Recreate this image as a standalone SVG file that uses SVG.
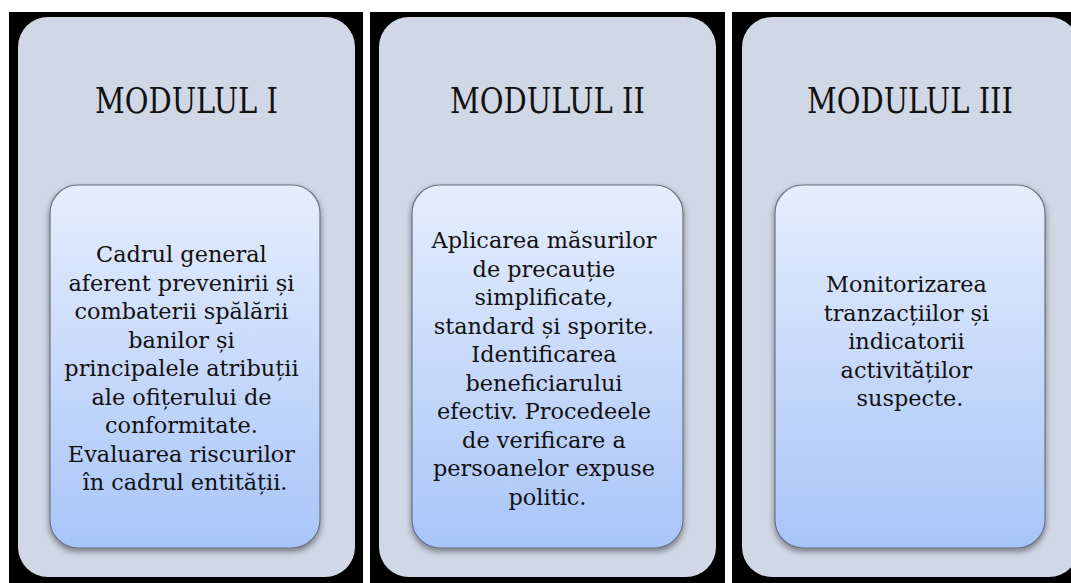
<svg xmlns="http://www.w3.org/2000/svg" width="1071" height="583" viewBox="0 0 1071 583">
  <defs>
    <linearGradient id="innerGrad" x1="0" y1="0" x2="0" y2="1">
      <stop offset="0" stop-color="#e6edfc"/>
      <stop offset="1" stop-color="#a8c5f9"/>
    </linearGradient>
    <filter id="shadow" x="-10%" y="-10%" width="120%" height="125%">
      <feGaussianBlur in="SourceAlpha" stdDeviation="3"/>
      <feOffset dx="0" dy="3" result="b"/>
      <feComponentTransfer><feFuncA type="linear" slope="0.45"/></feComponentTransfer>
      <feMerge><feMergeNode/><feMergeNode in="SourceGraphic"/></feMerge>
    </filter>
    <style>
      .panel { fill: #000000; }
      .outer { fill: #d0d7e5; }
      .inner { fill: url(#innerGrad); stroke: #6b7282; stroke-width: 1.2; }
      .title { font-family: "DejaVu Serif", "Liberation Serif", serif; font-size: 35px; fill: #111111; text-anchor: middle; }
      .body { font-family: "DejaVu Serif", "Liberation Serif", serif; font-size: 22.4px; fill: #111111; text-anchor: middle; }
    </style>
  </defs>
  <rect x="0" y="0" width="1071" height="583" fill="#ffffff"/>
  <rect class="panel" x="9" y="12" width="354" height="571"/>
  <rect class="panel" x="370" y="12" width="355" height="571"/>
  <rect class="panel" x="732" y="12" width="339" height="571"/>

  <g id="module1">
    <rect class="outer" x="18" y="17" width="337" height="560" rx="30" ry="30"/>
    <text class="title" x="186.5" y="113" textLength="183" lengthAdjust="spacingAndGlyphs">MODULUL I</text>
    <rect class="inner" x="50" y="185" width="270" height="363" rx="28" ry="28" filter="url(#shadow)"/>
    <text class="body" x="185">
      <tspan x="185" y="262">Cadrul general</tspan>
      <tspan x="185" y="290.5">aferent prevenirii și</tspan>
      <tspan x="185" y="319">combaterii spălării</tspan>
      <tspan x="185" y="347.5">banilor și</tspan>
      <tspan x="185" y="376">principalele atribuții</tspan>
      <tspan x="185" y="404.5">ale ofițerului de</tspan>
      <tspan x="185" y="433">conformitate.</tspan>
      <tspan x="185" y="461.5">Evaluarea riscurilor</tspan>
      <tspan x="185" y="490">în cadrul entității.</tspan>
    </text>
  </g>

  <g id="module2">
    <rect class="outer" x="379" y="17" width="337" height="560" rx="30" ry="30"/>
    <text class="title" x="547.5" y="113" textLength="195" lengthAdjust="spacingAndGlyphs">MODULUL II</text>
    <rect class="inner" x="412" y="185" width="271" height="363" rx="28" ry="28" filter="url(#shadow)"/>
    <text class="body" x="547.5">
      <tspan x="547.5" y="248">Aplicarea măsurilor</tspan>
      <tspan x="547.5" y="276.5">de precauție</tspan>
      <tspan x="547.5" y="305">simplificate,</tspan>
      <tspan x="547.5" y="333.5">standard și sporite.</tspan>
      <tspan x="547.5" y="362">Identificarea</tspan>
      <tspan x="547.5" y="390.5">beneficiarului</tspan>
      <tspan x="547.5" y="419">efectiv. Procedeele</tspan>
      <tspan x="547.5" y="447.5">de verificare a</tspan>
      <tspan x="547.5" y="476">persoanelor expuse</tspan>
      <tspan x="547.5" y="504.5">politic.</tspan>
    </text>
  </g>

  <g id="module3">
    <rect class="outer" x="742" y="17" width="337" height="560" rx="30" ry="30"/>
    <text class="title" x="910" y="113" textLength="206" lengthAdjust="spacingAndGlyphs">MODULUL III</text>
    <rect class="inner" x="775" y="185" width="270" height="363" rx="28" ry="28" filter="url(#shadow)"/>
    <text class="body" x="910">
      <tspan x="910" y="292">Monitorizarea</tspan>
      <tspan x="910" y="320.5">tranzacțiilor și</tspan>
      <tspan x="910" y="349">indicatorii</tspan>
      <tspan x="910" y="377.5">activităților</tspan>
      <tspan x="910" y="406">suspecte.</tspan>
    </text>
  </g>

  <g id="connectors"></g>
</svg>
